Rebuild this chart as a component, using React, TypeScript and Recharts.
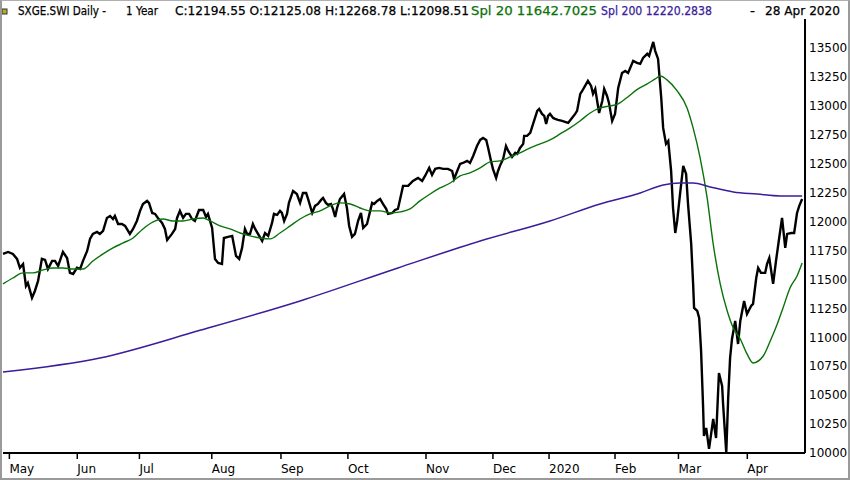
import { LineChart, Line, XAxis, YAxis } from 'recharts';

// [trading day, close]
const closeSeries: [number, number][] = [
  [0, 11720], [1.6, 11737], [3.1, 11720], [4.4, 11677], [5.3, 11600], [6.3, 11633], [7.2, 11443], [7.8, 11470],
  [9.1, 11340], [10.0, 11400], [11.0, 11487], [12.2, 11677], [13.2, 11668], [14.1, 11590], [15.4, 11660], [16.3, 11660],
  [17.3, 11616], [18.8, 11737], [20.1, 11685], [21.0, 11556], [22.0, 11547], [23.2, 11600], [24.2, 11590], [25.1, 11660],
  [26.4, 11746], [27.3, 11850], [28.2, 11893], [29.5, 11910], [30.4, 11893], [31.4, 11919], [32.6, 12031], [33.6, 12048],
  [34.5, 12022], [35.1, 12048], [36.1, 11979], [37.3, 11979], [38.3, 11962], [39.8, 11893], [40.8, 11936], [42.0, 12005],
  [43.0, 12092], [43.9, 12152], [45.2, 12178], [45.8, 12161], [46.8, 12074], [47.7, 12066], [48.6, 12031], [49.9, 11988],
  [50.8, 11936], [51.5, 11841], [53.0, 11893], [54.0, 11936], [54.6, 12031], [55.5, 12092], [56.5, 12031], [57.4, 12066],
  [58.4, 12066], [59.3, 12022], [60.2, 12005], [61.5, 12100], [62.8, 12100], [63.7, 12040], [64.3, 12066], [65.6, 11945],
  [66.5, 11677], [67.5, 11642], [68.7, 11633], [69.3, 11858], [70.6, 11867], [71.9, 11876], [72.2, 11832], [73.1, 11703],
  [74.1, 11677], [75.0, 11772], [75.9, 11936], [76.6, 11893], [77.5, 11893], [78.4, 11979], [79.1, 11936], [80.0, 11893],
  [81.3, 11832], [82.2, 11901], [83.2, 11876], [84.4, 11988], [85.0, 12066], [86.0, 12057], [86.9, 12092], [87.5, 12074],
  [88.2, 12005], [89.1, 12066], [89.7, 12161], [91.0, 12264], [92.2, 12238], [93.2, 12161], [94.1, 12247], [95.1, 12247],
  [95.7, 12195], [97.0, 12074], [97.9, 12135], [98.8, 12152], [99.8, 12187], [100.4, 12204], [101.3, 12161], [102.0, 12143],
  [102.9, 12152], [103.5, 12109], [104.2, 12040], [104.8, 12117], [105.7, 12195], [107.0, 12238], [107.9, 12117], [108.6, 11962],
  [109.5, 11867], [110.4, 11893], [111.4, 12005], [112.3, 12074], [113.0, 11945], [114.2, 11979], [114.8, 12048], [115.8, 12161],
  [116.4, 12152], [117.4, 12178], [118.3, 12195], [119.2, 12152], [120.2, 12109], [120.8, 12066], [122.1, 12074], [123.0, 12100],
  [123.9, 12109], [125.5, 12308], [127.1, 12308], [128.6, 12351], [130.2, 12377], [131.5, 12351], [132.4, 12394], [133.7, 12463],
  [134.6, 12403], [135.6, 12455], [136.8, 12463], [138.1, 12455], [139.6, 12455], [140.9, 12437], [141.5, 12368], [142.5, 12437],
  [143.4, 12498], [144.3, 12506], [145.6, 12524], [146.5, 12506], [147.5, 12567], [148.7, 12653], [149.7, 12705], [150.6, 12722],
  [151.6, 12705], [152.2, 12636], [153.1, 12524], [153.7, 12455], [154.7, 12377], [155.3, 12437], [155.9, 12481], [156.9, 12541],
  [157.8, 12653], [158.5, 12610], [159.7, 12558], [160.7, 12593], [161.3, 12584], [162.2, 12636], [163.2, 12671], [163.5, 12740],
  [164.4, 12740], [165.4, 12766], [166.3, 12843], [166.9, 12895], [167.6, 12956], [168.2, 12973], [169.1, 12930], [169.8, 12913],
  [170.4, 12843], [171.0, 12913], [171.6, 12930], [172.6, 12895], [173.2, 12887], [174.1, 12878], [175.4, 12869], [176.3, 12861],
  [177.3, 12852], [178.5, 12895], [179.5, 12930], [180.1, 12956], [181.1, 13103], [181.7, 13128], [182.6, 13172], [183.5, 13215],
  [184.5, 13172], [185.1, 13103], [185.8, 13146], [186.4, 13042], [187.0, 12938], [188.0, 13042], [188.6, 13146], [189.5, 13085],
  [190.1, 13025], [191.1, 12869], [192.0, 12930], [193.0, 13155], [194.2, 13284], [195.2, 13301], [196.1, 13284], [197.7, 13388],
  [198.9, 13371], [199.9, 13362], [200.8, 13414], [202.1, 13449], [202.7, 13431], [204.0, 13552], [204.6, 13475], [205.5, 13405],
  [206.5, 13068], [207.1, 12809], [208.0, 12671], [208.7, 12697], [209.6, 12437], [210.2, 12117], [210.9, 11901], [211.5, 12005],
  [212.4, 12238], [213.4, 12481], [214.3, 12411], [214.9, 12152], [215.9, 11806], [216.5, 11461], [216.8, 11253], [217.8, 11227],
  [218.4, 11167], [219.0, 10882], [219.6, 10424], [219.9, 10147], [220.6, 10216], [221.5, 10035], [222.8, 10294], [223.7, 10130],
  [224.6, 10691], [225.6, 10579], [225.9, 10424], [226.9, 10000], [227.5, 10475], [228.1, 10821], [228.7, 10985], [229.7, 11141],
  [230.6, 10942], [231.3, 11141], [232.5, 11314], [233.4, 11201], [234.7, 11271], [235.3, 11288], [236.3, 11512], [236.9, 11599],
  [237.8, 11556], [239.1, 11556], [239.7, 11634], [240.4, 11685], [241.6, 11461], [242.5, 11659], [243.5, 11858], [244.4, 12031],
  [245.4, 11772], [246.0, 11893], [247.3, 11901], [248.2, 11901], [249.1, 12074], [249.8, 12135], [250.7, 12195],
];

// [trading day, 20-day average]
const spl20Series: [number, number][] = [
  [0, 11461], [3.1, 11512], [6.3, 11556], [9.4, 11556], [12.6, 11582], [15.7, 11599], [18.8, 11599], [22.0, 11590],
  [25.1, 11590], [28.2, 11659], [31.4, 11720], [34.5, 11772], [37.7, 11815], [40.8, 11858], [43.9, 11936], [47.1, 11997],
  [50.2, 12022], [53.3, 12005], [56.5, 12005], [59.6, 12022], [62.8, 12031], [65.0, 12005], [68.1, 11962], [71.2, 11936],
  [74.4, 11901], [77.5, 11876], [80.6, 11858], [83.8, 11850], [86.9, 11901], [90.1, 11962], [93.2, 12022], [96.3, 12066],
  [99.5, 12092], [102.6, 12135], [105.7, 12161], [108.9, 12152], [112.0, 12117], [115.2, 12092], [118.3, 12092], [121.4, 12074],
  [124.6, 12083], [127.7, 12109], [130.8, 12178], [134.0, 12238], [137.1, 12290], [140.3, 12333], [143.4, 12394], [146.5, 12420],
  [149.7, 12463], [152.8, 12515], [155.9, 12524], [159.1, 12558], [162.2, 12593], [165.4, 12636], [168.5, 12671], [171.6, 12705],
  [174.8, 12757], [177.9, 12809], [181.0, 12869], [184.2, 12938], [187.3, 12982], [190.5, 12999], [192.7, 13012], [195.8, 13072],
  [199.0, 13142], [202.1, 13189], [204.6, 13232], [206.2, 13258], [208.3, 13224], [211.5, 13129], [214.6, 12982], [216.5, 12809],
  [218.7, 12550], [220.9, 12204], [222.8, 11806], [225.0, 11461], [227.2, 11227], [229.1, 11080], [231.3, 10985], [233.4, 10856],
  [235.3, 10778], [238.5, 10838], [240.7, 10968], [242.9, 11115], [244.7, 11253], [246.9, 11426], [249.1, 11530], [250.7, 11642],
];

// [trading day, 200-day average]
const spl200Series: [number, number][] = [
  [0, 10700], [30.4, 10821], [61.8, 11060], [93.2, 11314], [123.9, 11599], [149.7, 11832], [171.6, 12005], [187.3, 12152],
  [199.9, 12247], [207.1, 12316], [212.4, 12333], [216.5, 12333], [221.8, 12299], [229.1, 12256], [236.6, 12238], [243.8, 12221],
  [250.7, 12221],
];

const monthTicks = [2.0, 23.3, 42.8, 65.5, 87.2, 108.2, 132.7, 153.7, 171.3, 192.0, 211.9, 233.5];
const monthLabels = ['May', 'Jun', 'Jul', 'Aug', 'Sep', 'Oct', 'Nov', 'Dec', '2020', 'Feb', 'Mar', 'Apr'];
const priceTicks = [10000, 10250, 10500, 10750, 11000, 11250, 11500, 11750, 12000, 12250, 12500, 12750, 13000, 13250, 13500];

const FONT = '"DejaVu Sans", sans-serif';
const GREEN = '#0a720a';
const PURPLE = '#3a1d98';

const rows = (s: [number, number][]) => s.map(([day, v]) => ({ day, v }));

function MonthTick(props: any) {
  const { x, y, payload } = props;
  const label = monthLabels[monthTicks.indexOf(payload.value)];
  return (
    <g>
      <line x1={x} x2={x} y1={y} y2={y + 6} stroke="#000" strokeWidth={1.5} />
      <text x={x} y={y + 20} fontSize={12} fontFamily={FONT} fill="#000" textAnchor="start">{label}</text>
    </g>
  );
}

function Header() {
  const t = (x: number, w: number, s: string, fill = '#000') => (
    <text x={x} y={15} fontSize={12.5} fontFamily={FONT} fill={fill} stroke={fill} strokeWidth={0.25}
      textLength={w} lengthAdjust="spacingAndGlyphs">{s}</text>
  );
  return (
    <svg width={850} height={20} style={{ position: 'absolute', left: 0, top: 0 }}>
      <rect x={2} y={9} width={5} height={5} fill="#b8a830" stroke="#333" strokeWidth={1} />
      {t(18, 88, 'SXGE.SWI Daily -')}
      {t(126, 32, '1 Year')}
      {t(175, 294, 'C:12194.55 O:12125.08 H:12268.78 L:12098.51')}
      {t(471, 126, 'Spl 20 11642.7025', GREEN)}
      {t(601, 111, 'Spl 200 12220.2838', PURPLE)}
      {t(750, 5, '-')}
      {t(765, 75, '28 Apr 2020')}
    </svg>
  );
}

export default function App() {
  return (
    <div style={{ position: 'fixed', left: 0, top: 0, width: 850, height: 480, background: '#fff' }}>
      <LineChart width={850} height={480} margin={{ top: 19, right: 0, left: 3, bottom: 0 }}>
        <XAxis
          type="number"
          dataKey="day"
          domain={[0, 251.6]}
          ticks={monthTicks}
          interval={0}
          height={27}
          tickSize={0}
          tickMargin={0}
          tickLine={false}
          axisLine={{ stroke: '#000', strokeWidth: 2 }}
          tick={<MonthTick />}
          allowDuplicatedCategory={false}
        />
        <YAxis
          orientation="right"
          type="number"
          domain={[10000, 13750]}
          ticks={priceTicks}
          interval={0}
          width={45}
          tickSize={0}
          tickMargin={4}
          tickLine={false}
          axisLine={{ stroke: '#000', strokeWidth: 2 }}
          tick={{ fill: '#000', fontSize: 12, fontFamily: FONT }}
        />
        <Line data={rows(closeSeries)} dataKey="v" type="linear" stroke="#000" strokeWidth={2.4} dot={false} isAnimationActive={false} />
        <Line data={rows(spl20Series)} dataKey="v" type="monotone" stroke={GREEN} strokeWidth={1.4} dot={false} isAnimationActive={false} />
        <Line data={rows(spl200Series)} dataKey="v" type="monotone" stroke={PURPLE} strokeWidth={1.5} dot={false} isAnimationActive={false} />
      </LineChart>
      <Header />
      <div style={{ position: 'absolute', inset: 0, borderLeft: '2px solid #9a9a9a', borderRight: '2px solid #9a9a9a', borderBottom: '2px solid #9a9a9a', borderTop: '1px solid #b0b0b0', pointerEvents: 'none' }} />
    </div>
  );
}
